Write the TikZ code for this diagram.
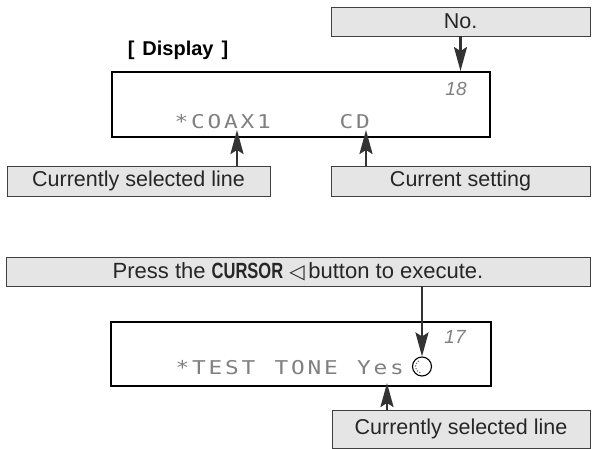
\documentclass[tikz,border=0pt]{standalone}
\usepackage{fontspec}
\usepackage{graphicx}
\setmainfont{Liberation Sans}
\newfontfamily\dmfont{DejaVu Sans Mono}
\newfontfamily\symfont{DejaVu Sans}
\usetikzlibrary{arrows.meta}
\newcommand\dmtext[1]{\dmloop#1\relax}
\def\dmloop#1{\ifx#1\relax\else\makebox[16.5pt][c]{\scalebox{1.2}[1]{#1}}\expandafter\dmloop\fi}
\begin{document}
\begin{tikzpicture}[x=1pt,y=-1pt,
  lbox/.style={draw=black!75, fill=black!10, line width=0.9pt, inner sep=0pt,
    font=\fontsize{21.5}{25}\selectfont, text=black!85},
  disp/.style={draw=black, line width=1.9pt, inner sep=0pt},
  arr/.style={draw=black!80, line width=2.4pt,
    -{Stealth[length=24pt,width=13pt,inset=4pt]}},
  dm/.style={anchor=west, inner sep=0pt, text=black!50,
    font=\dmfont\fontsize{19}{19}\selectfont},
  segnum/.style={inner sep=0pt, text=black!50,
    font=\itshape\fontsize{19}{19}\selectfont}]
\useasboundingbox (0,0) rectangle (592,449);
% ---------- upper display ----------
\node[lbox, minimum width=259pt, minimum height=29pt] (no) at (460.5,21.5) {No.};
\node[inner sep=0pt, font=\bfseries\fontsize{20}{22}\selectfont] (title) at (178,50)
  {[\hspace{8pt}Display\hspace{8pt}]};
\node[disp, minimum width=378pt, minimum height=65pt] (d1) at (301,104.5) {};
\node[segnum] (n18) at (456,89) {18};
\node[dm] (t1) at (173,122) {\dmtext{*COAX1~~~~CD}};
\node[lbox, minimum width=263pt, minimum height=30pt] (csl) at (138.5,181) {Currently selected line};
\node[lbox, minimum width=259pt, minimum height=30pt] (cs) at (460.5,181) {Current setting};
\coordinate (a1) at (237,130);
\coordinate (a2) at (366,130);
\draw[arr] (no.south) -- (no.south |- d1.north);
\draw[arr] (a1 |- csl.north) -- (a1);
\draw[arr] (a2 |- cs.north) -- (a2);
% ---------- lower display ----------
\node[lbox, minimum width=584pt, minimum height=29pt, font=\fontsize{22}{25}\selectfont] (press) at (298,271.5)
  {Press the \scalebox{0.75}[1]{\bfseries CURSOR} {\symfont\fontsize{20}{20}\selectfont ◁}\,button to execute.};
\node[disp, minimum width=380pt, minimum height=64pt] (d2) at (301,354) {};
\node[segnum] (n17) at (455,337) {17};
\node[dm] (t2) at (174,368) {\dmtext{*TEST~TONE~Yes}};
\node[draw=black, line width=1.1pt, circle, minimum size=19pt, inner sep=0pt] (ring) at (422,366.5) {};
\foreach \a in {110,135,160,185,210,235}
  \fill[black!55] (ring.center) ++(\a:6.3) circle (0.8);
\node[lbox, minimum width=258pt, minimum height=38pt] (csl2) at (461,429) {Currently selected line};
\coordinate (a3) at (387,383);
\draw[arr] (press.south -| ring.north) -- (ring.north);
\draw[arr] (a3 |- csl2.north) -- (a3);
\end{tikzpicture}
\end{document}
